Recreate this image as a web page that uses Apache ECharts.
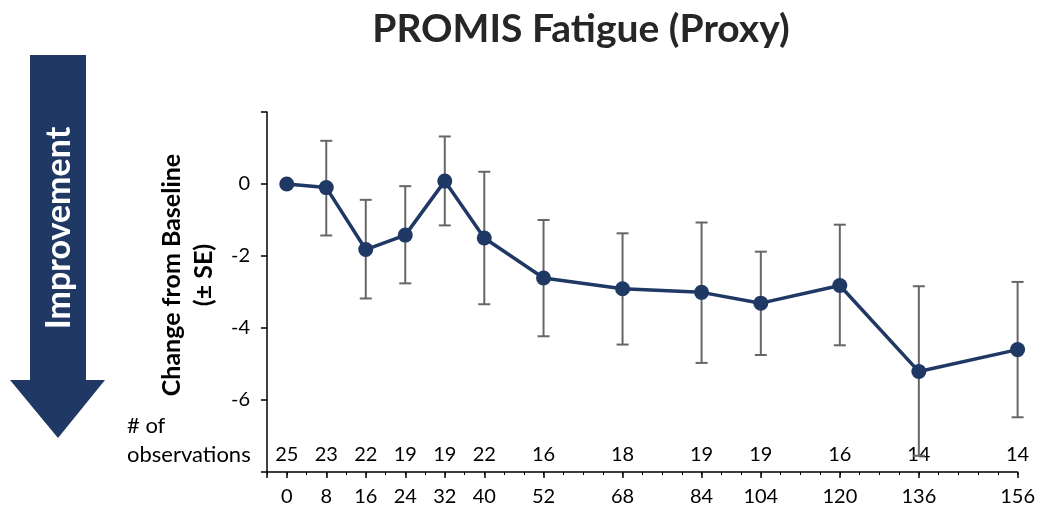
<!DOCTYPE html>
<html>
<head>
<meta charset="utf-8">
<script src="https://cdn.jsdelivr.net/npm/echarts@6/dist/echarts.min.js"></script>
<style>html,body{margin:0;padding:0;background:#fff}#c{width:1038px;height:507px}</style>
</head>
<body>
<div id="c"></div>
<script>
// ---- data ----
const weekLabels = ['0','8','16','24','32','40','52','68','84','104','120','136','156'];
// horizontal plotting positions of the visits (as spaced in the original chart)
const plotPos = [0, 8, 16, 24, 32, 40, 52, 68, 84, 96, 112, 128, 148];
const meanChange = [0, -0.10, -1.82, -1.42, 0.08, -1.50, -2.61, -2.91, -3.01, -3.31, -2.82, -5.21, -4.60];
const seUpper = [0, 1.20, -0.44, -0.06, 1.32, 0.34, -1.00, -1.37, -1.07, -1.88, -1.13, -2.84, -2.72];
const seLower = [0, -1.43, -3.18, -2.76, -1.15, -3.34, -4.23, -4.46, -4.97, -4.75, -4.48, -7.55, -6.48];
const nObs = [25, 23, 22, 19, 19, 22, 16, 18, 19, 19, 16, 14, 14];
const yTickLabels = ['0', '-2', '-4', '-6'];

const FONT = 'Lato';
const navy = '#1F3864';
const LBL = 20;

const lineData = plotPos.map((x, i) => [x, meanChange[i]]);
const errData = plotPos.map((x, i) => [x, seLower[i], seUpper[i]]);

const chart = echarts.init(document.getElementById('c'));
const xMin = -4, xMax = 148;
chart.setOption({
  animation: false,
  textStyle: {fontFamily: FONT},
  grid: {left: 267, top: 112, width: 755, height: 360},
  xAxis: [
    {
      type: 'value', min: xMin, max: xMax,
      axisLine: {show: true, onZero: false, lineStyle: {color: '#000', width: 1.5}},
      splitLine: {show: false},
      axisTick: {show: true, customValues: [xMin].concat(plotPos), length: 6, lineStyle: {color: '#000', width: 1.5}},
      axisLabel: {
        customValues: plotPos, margin: 15, fontSize: LBL, color: '#000', fontFamily: FONT,
        formatter: v => { const i = plotPos.indexOf(v); return i >= 0 ? weekLabels[i] : ''; }
      }
    },
    {
      type: 'value', min: xMin, max: xMax, interval: 4, position: 'bottom',
      axisLine: {show: false, onZero: false}, splitLine: {show: false},
      axisTick: {show: true, length: 3, lineStyle: {color: '#000', width: 1}},
      axisLabel: {show: false}
    },
    {
      type: 'value', min: xMin, max: xMax, position: 'bottom',
      axisLine: {show: false, onZero: false}, splitLine: {show: false}, axisTick: {show: false},
      axisLabel: {
        inside: true, customValues: plotPos, margin: 7, fontSize: LBL, color: '#000', fontFamily: FONT,
        formatter: v => { const i = plotPos.indexOf(v); return i >= 0 ? String(nObs[i]) : ''; }
      }
    }
  ],
  yAxis: {
    type: 'value', min: -8, max: 2, interval: 2,
    axisLine: {show: true, onZero: false, lineStyle: {color: '#000', width: 1.5}},
    splitLine: {show: false},
    axisTick: {show: true, length: 6, lineStyle: {color: '#000', width: 1.5}},
    axisLabel: {
      margin: 17, fontSize: LBL, color: '#000', fontFamily: FONT,
      formatter: v => yTickLabels.indexOf(String(v)) >= 0 ? String(v) : ''
    }
  },
  series: [
    {
      type: 'custom',
      xAxisIndex: 0,
      data: errData,
      z: 2,
      renderItem: (params, api) => {
        const x = api.value(0);
        const lo = api.coord([x, api.value(1)]);
        const hi = api.coord([x, api.value(2)]);
        const w = 6;
        const st = {stroke: '#666', lineWidth: 2};
        return {
          type: 'group',
          children: [
            {type: 'line', shape: {x1: lo[0], y1: lo[1], x2: hi[0], y2: hi[1]}, style: st},
            {type: 'line', shape: {x1: lo[0] - w, y1: lo[1], x2: lo[0] + w, y2: lo[1]}, style: st},
            {type: 'line', shape: {x1: hi[0] - w, y1: hi[1], x2: hi[0] + w, y2: hi[1]}, style: st}
          ]
        };
      }
    },
    {
      type: 'line',
      xAxisIndex: 0,
      data: lineData,
      z: 3,
      symbol: 'circle', symbolSize: 15,
      lineStyle: {color: navy, width: 3.5},
      itemStyle: {color: navy}
    }
  ],
  graphic: [
    {
      type: 'text', x: 581, y: 29,
      style: {text: 'PROMIS Fatigue (Proxy)', fill: '#262626', font: 'bold 39px ' + FONT, textAlign: 'center', textVerticalAlign: 'middle'}
    },
    {
      type: 'polygon',
      shape: {points: [[30, 55], [86, 55], [86, 380], [105, 380], [58, 438], [10, 380], [30, 380]]},
      style: {fill: '#203864'}
    },
    {
      type: 'text', x: 59, y: 228, rotation: Math.PI / 2,
      style: {text: 'Improvement', fill: '#fff', font: 'bold 34px ' + FONT, textAlign: 'center', textVerticalAlign: 'middle'}
    },
    {
      type: 'text', x: 188, y: 275, rotation: Math.PI / 2,
      style: {text: 'Change from Baseline\n(± SE)', fill: '#000', font: 'bold 25px ' + FONT, textAlign: 'center', textVerticalAlign: 'middle', lineHeight: 32}
    },
    {
      type: 'text', x: 127, y: 426,
      style: {text: '# of', fill: '#000', font: '22px ' + FONT, textAlign: 'left', textVerticalAlign: 'middle'}
    },
    {
      type: 'text', x: 127, y: 455,
      style: {text: 'observations', fill: '#000', font: '22px ' + FONT, textAlign: 'left', textVerticalAlign: 'middle'}
    }
  ]
});
</script>
</body>
</html>
